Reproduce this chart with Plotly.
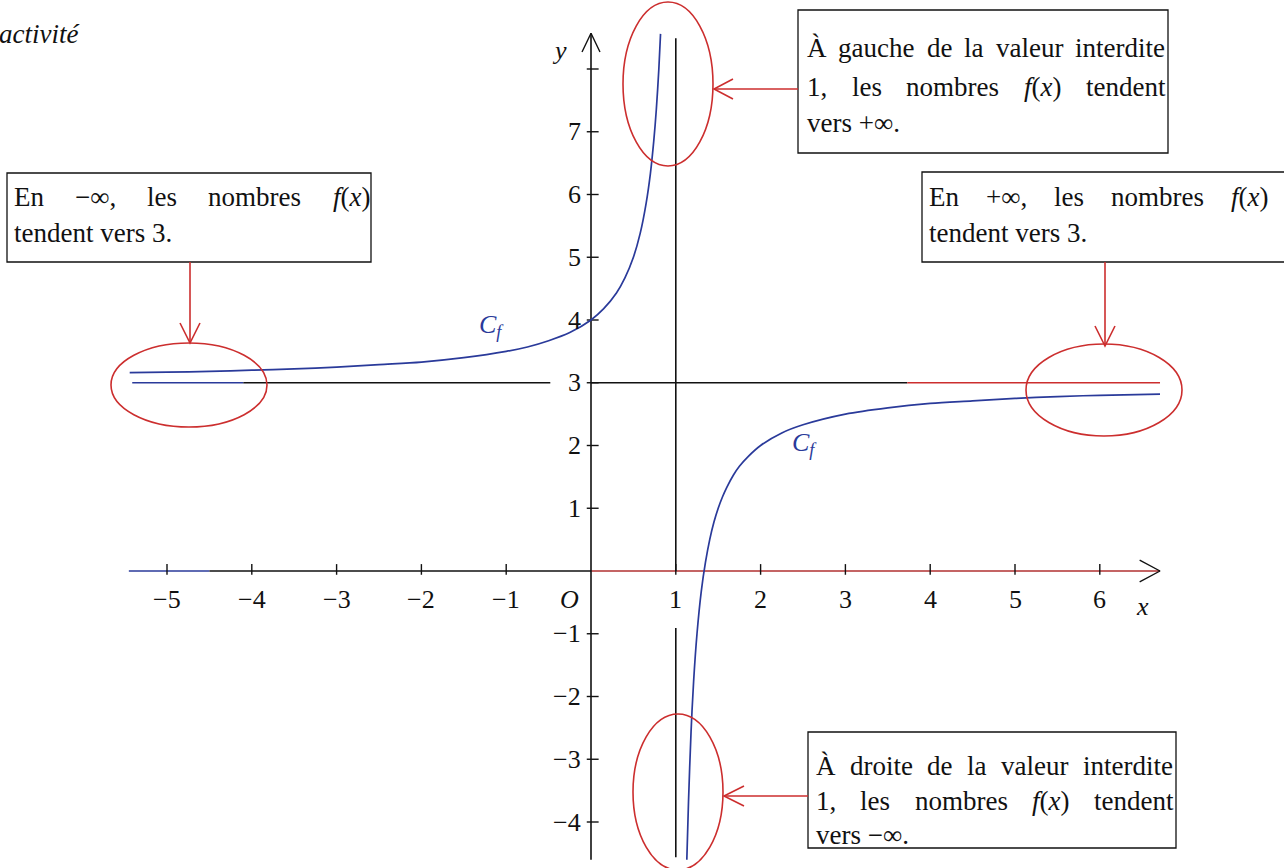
import plotly.graph_objects as go

# ---------------- data ----------------
left_x = [-5.44, -5.0, -4.5, -4.0, -3.5, -3.0, -2.5, -2.0, -1.5, -1.0, -0.75, -0.5,
          -0.25, 0.0, 0.15, 0.3, 0.4, 0.5, 0.58, 0.65, 0.7, 0.74, 0.77, 0.8, 0.82]
left_y = [3.16, 3.17, 3.18, 3.20, 3.22, 3.25, 3.29, 3.33, 3.40, 3.50, 3.57, 3.67,
          3.80, 4.00, 4.18, 4.43, 4.67, 5.00, 5.38, 5.86, 6.33, 6.85, 7.35, 8.00, 8.56]
right_x = [1.13, 1.15, 1.18, 1.21, 1.25, 1.3, 1.35, 1.4, 1.45, 1.5, 1.55, 1.6, 1.68,
           1.75, 1.85, 2.0, 2.25, 2.5, 3.0, 3.5, 4.0, 4.5, 5.0, 5.5, 6.0, 6.71]
right_y = [-4.6, -3.67, -2.56, -1.76, -1.0, -0.33, 0.14, 0.5, 0.78, 1.0, 1.18, 1.33, 1.53,
           1.67, 1.82, 2.0, 2.2, 2.33, 2.5, 2.6, 2.67, 2.71, 2.75, 2.78, 2.8, 2.82]

x_ticks = [-5, -4, -3, -2, -1, 1, 2, 3, 4, 5, 6]
x_tick_labels = ["−5", "−4", "−3", "−2", "−1", "1", "2", "3", "4", "5", "6"]
y_ticks = [-4, -3, -2, -1, 1, 2, 3, 4, 5, 6, 7, 8]
y_tick_labels = ["−4", "−3", "−2", "−1", "1", "2", "3", "4", "5", "6", "7", ""]

asymptote_y = 3
asymptote_x = 1

# ---------------- geometry / style ----------------
W, H = 1284, 868
X0PX, XU = 591.0, 84.8   # origin pixel and px per unit
Y0PX, YU = 571.0, 62.75
x_range = [-X0PX / XU, (W - X0PX) / XU]
y_range = [-(H - Y0PX) / YU, Y0PX / YU]

BLUE = "#2a3a9a"
RED = "#cc2e2e"
AXRED = "#b03030"
BLACK = "#111111"
FONT = "Liberation Serif"
FS = 27      # text boxes
TFS = 26     # tick labels


def px(x):
    return x / W


def py(y):
    return 1 - y / H


fig = go.Figure()


def seg(xs, ys, color, width=1.6):
    fig.add_trace(go.Scatter(x=xs, y=ys, mode="lines", line=dict(color=color, width=width),
                             hoverinfo="skip", showlegend=False))


# axes
seg([-5.45, -4.5], [0, 0], "#2a3a9a")
seg([-4.5, 0], [0, 0], BLACK)
seg([0, 6.71], [0, 0], AXRED)
seg([6.47, 6.71, 6.47], [0.175, 0, -0.175], BLACK, 1.4)
seg([0, 0], [-4.6, 8.57], BLACK)
seg([-0.106, 0, 0.106], [8.27, 8.57, 8.27], BLACK, 1.4)

# ticks
tx, ty = [], []
for t in x_ticks:
    tx += [t, t, None]
    ty += [-0.06, 0.11, None]
seg(tx, ty, BLACK, 1.4)
tx, ty = [], []
for t in y_ticks:
    tx += [-0.05, 0.09, None]
    ty += [t, t, None]
seg(tx, ty, BLACK, 1.4)

# asymptotes
seg([-5.41, -4.1], [asymptote_y] * 2, "#2a3a9a")
seg([-4.1, -0.48], [asymptote_y] * 2, BLACK)
seg([0, 3.73], [asymptote_y] * 2, BLACK)
seg([3.73, 6.71], [asymptote_y] * 2, RED)
seg([asymptote_x] * 2, [0, 8.49], BLACK)
seg([asymptote_x] * 2, [-4.56, -0.91], BLACK)

# curve
for cx, cy in ((left_x, left_y), (right_x, right_y)):
    fig.add_trace(go.Scatter(x=cx, y=cy, mode="lines",
                             line=dict(color=BLUE, width=1.7, shape="spline", smoothing=0.9),
                             hoverinfo="skip", showlegend=False))

ann = []
tick_font = dict(family=FONT, size=TFS, color=BLACK)
for t, lab in zip(x_ticks, x_tick_labels):
    ann.append(dict(x=t, y=-0.46, xref="x", yref="y", text=lab, showarrow=False,
                    xanchor="center", yanchor="middle", font=tick_font))
ann.append(dict(x=-0.25, y=-0.46, xref="x", yref="y", text="<i>O</i>", showarrow=False,
                xanchor="center", yanchor="middle", font=tick_font))
for t, lab in zip(y_ticks, y_tick_labels):
    if lab:
        ann.append(dict(x=-0.1, y=t, xref="x", yref="y", text=lab, showarrow=False,
                        xanchor="right", yanchor="middle", font=tick_font))
ann.append(dict(x=-0.37, y=8.3, xref="x", yref="y", text="<i>y</i>", showarrow=False,
                xanchor="center", yanchor="middle", font=tick_font))
ann.append(dict(x=6.5, y=-0.57, xref="x", yref="y", text="<i>x</i>", showarrow=False,
                xanchor="center", yanchor="middle", font=tick_font))
cf_font = dict(family=FONT, size=26, color=BLUE)
ann.append(dict(x=-1.17, y=3.9, xref="x", yref="y", text="<i>C<sub>f</sub></i>",
                showarrow=False, xanchor="center", yanchor="middle", font=cf_font))
ann.append(dict(x=2.52, y=2.02, xref="x", yref="y", text="<i>C<sub>f</sub></i>",
                showarrow=False, xanchor="center", yanchor="middle", font=cf_font))

ann.append(dict(x=px(-3), y=py(34), xref="paper", yref="paper", text="<i>activité</i>",
                showarrow=False, xanchor="left", yanchor="middle",
                font=dict(family=FONT, size=27, color=BLACK)))

# ---------------- justified text boxes ----------------
CW = {"a": 444, "b": 500, "c": 444, "d": 500, "e": 444, "f": 278, "g": 500, "h": 500,
      "i": 278, "l": 278, "m": 778, "n": 500, "o": 500, "r": 333, "s": 389, "t": 278,
      "u": 500, "v": 500, "x": 444, "E": 611, "À": 722, "1": 500, "3": 500, ",": 250,
      ".": 250, "(": 333, ")": 333, "+": 564, "−": 564, "∞": 713, " ": 250}


def width(s):
    return sum(CW.get(c, 500) for c in s) * FS / 1000.0


def html(word):
    return word.replace("f(x)", "<i>f</i>(<i>x</i>)")


def add_line(words, left, right, ypix, justify=True):
    if not justify or len(words) == 1:
        ann.append(dict(x=px(left), y=py(ypix), xref="paper", yref="paper",
                        text=html(" ".join(words)), showarrow=False, xanchor="left",
                        yanchor="middle", font=dict(family=FONT, size=FS, color=BLACK)))
        return
    widths = [width(w) for w in words]
    gap = (right - left - sum(widths)) / (len(words) - 1)
    x = left
    for w, wd in zip(words, widths):
        ann.append(dict(x=px(x), y=py(ypix), xref="paper", yref="paper", text=html(w),
                        showarrow=False, xanchor="left", yanchor="middle",
                        font=dict(family=FONT, size=FS, color=BLACK)))
        x += wd + gap


shapes = []


def box(x0, y0, x1, y1):
    shapes.append(dict(type="rect", xref="paper", yref="paper", x0=px(x0), x1=px(x1),
                       y0=py(y1), y1=py(y0), line=dict(color=BLACK, width=1.3),
                       fillcolor="white", layer="below"))


box(798, 10, 1168, 153)
add_line("À gauche de la valeur interdite".split(), 805, 1163, 48)
add_line("1, les nombres f(x) tendent".split(), 805, 1163, 87)
add_line(["vers", "+∞."], 805, 1163, 123, justify=False)

box(7, 173, 371, 262)
add_line("En −∞, les nombres f(x)".split(), 12, 368, 197)
add_line(["tendent vers 3."], 12, 368, 233, justify=False)

box(922, 172, 1292, 262)
add_line("En +∞, les nombres f(x)".split(), 927, 1266, 197)
add_line(["tendent vers 3."], 927, 1266, 233, justify=False)

box(808, 732, 1176, 848)
add_line("À droite de la valeur interdite".split(), 814, 1171, 766)
add_line("1, les nombres f(x) tendent".split(), 814, 1171, 801)
add_line(["vers −∞."], 814, 1171, 835, justify=False)


# ellipses
def ellipse(cx, cy, rx, ry):
    shapes.append(dict(type="circle", xref="paper", yref="paper", x0=px(cx - rx),
                       x1=px(cx + rx), y0=py(cy + ry), y1=py(cy - ry),
                       line=dict(color=RED, width=1.6)))


ellipse(668, 84, 45, 82)
ellipse(189, 385, 78, 42)
ellipse(1104, 390, 78, 46)
ellipse(678, 792, 45, 78)


# arrows
def path(points, color=RED, w=1.6):
    d = "M " + " L ".join(f"{px(a):.5f},{py(b):.5f}" for a, b in points)
    shapes.append(dict(type="path", xref="paper", yref="paper", path=d,
                       line=dict(color=color, width=w)))


path([(798, 89), (714, 89)])
path([(733, 79), (714, 89), (733, 99)])
path([(190, 262), (190, 343)])
path([(180, 323), (190, 343), (200, 323)])
path([(1105, 262), (1105, 346)])
path([(1095, 326), (1105, 346), (1115, 326)])
path([(808, 796), (724, 796)])
path([(744, 786), (724, 796), (744, 806)])

fig.update_layout(
    width=W, height=H,
    margin=dict(l=0, r=0, t=0, b=0, pad=0),
    paper_bgcolor="white", plot_bgcolor="white",
    xaxis=dict(range=x_range, visible=False, fixedrange=True),
    yaxis=dict(range=y_range, visible=False, fixedrange=True),
    annotations=ann, shapes=shapes, showlegend=False,
)

fig.write_html("out.html", config={"displayModeBar": False},
               post_script="document.body.style.margin='0';")
